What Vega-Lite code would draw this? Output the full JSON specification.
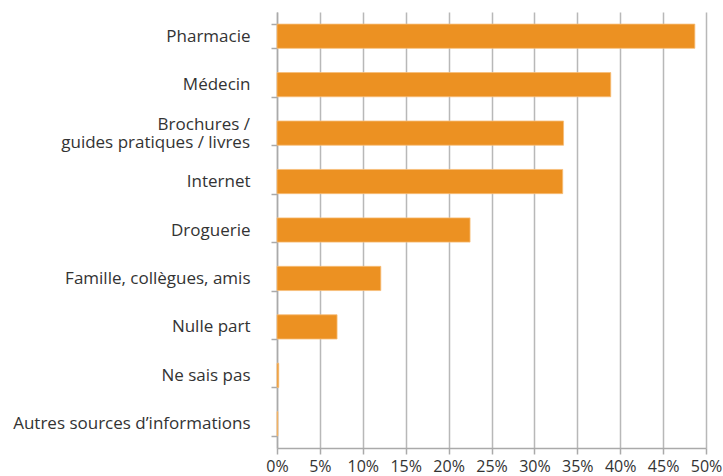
{
  "$schema": "https://vega.github.io/schema/vega-lite/v6.json",
  "autosize": "none",
  "width": 429,
  "height": 436,
  "padding": {"left": 277, "top": 12, "right": 17, "bottom": 28},
  "background": "white",
  "data": {
    "values": [
      {"source": "Pharmacie", "value": 48.7},
      {"source": "Médecin", "value": 38.9},
      {"source": "Brochures /|guides pratiques / livres", "value": 33.4},
      {"source": "Internet", "value": 33.3},
      {"source": "Droguerie", "value": 22.5},
      {"source": "Famille, collègues, amis", "value": 12.1},
      {"source": "Nulle part", "value": 7.0},
      {"source": "Ne sais pas", "value": 0.2},
      {"source": "Autres sources d’informations", "value": 0.1}
    ]
  },
  "encoding": {
    "y": {
      "field": "source",
      "type": "nominal",
      "sort": null,
      "title": null,
      "scale": {"paddingInner": 0.5, "paddingOuter": 0.25},
      "axis": {
        "labelExpr": "indexof(datum.label, '|') >= 0 ? '' : datum.label",
        "labelFont": "Open Sans",
        "labelFontSize": 17,
        "labelColor": "#333333",
        "labelPadding": 21,
        "tickBand": "extent",
        "tickSize": 6,
        "tickColor": "#aaaaaa",
        "tickWidth": 1.5,
        "domainColor": "#aaaaaa",
        "domainWidth": 1.5,
        "grid": false,
        "labelLimit": 300
      }
    }
  },
  "layer": [
    {
      "mark": {"type": "bar", "color": "#EC9122", "stroke": "#F7BE78", "strokeWidth": 0.8},
      "encoding": {
        "x": {
          "field": "value",
          "type": "quantitative",
          "title": null,
          "scale": {"domain": [0, 50], "nice": false},
          "axis": {
            "values": [0, 5, 10, 15, 20, 25, 30, 35, 40, 45, 50],
            "labelExpr": "datum.value + '%'",
            "labelFont": "Open Sans",
            "labelFontSize": 16,
            "labelColor": "#333333",
            "labelPadding": 4,
            "tickSize": 6,
            "tickColor": "#aaaaaa",
            "tickWidth": 1.5,
            "domainColor": "#aaaaaa",
            "domainWidth": 1.5,
            "grid": true,
            "gridColor": "#b8b8b8",
            "gridWidth": 1.5,
            "labelFlush": false
          }
        }
      }
    },
    {
      "transform": [{"filter": "indexof(datum.source, '|') >= 0"}],
      "mark": {
        "type": "text",
        "lineBreak": "|",
        "lineHeight": 18,
        "align": "right",
        "baseline": "middle",
        "dx": -27,
        "dy": -8,
        "font": "Open Sans",
        "fontSize": 17,
        "color": "#333333"
      },
      "encoding": {
        "x": {"datum": 0, "type": "quantitative"},
        "text": {"field": "source"}
      }
    }
  ],
  "config": {"view": {"stroke": null}}
}
